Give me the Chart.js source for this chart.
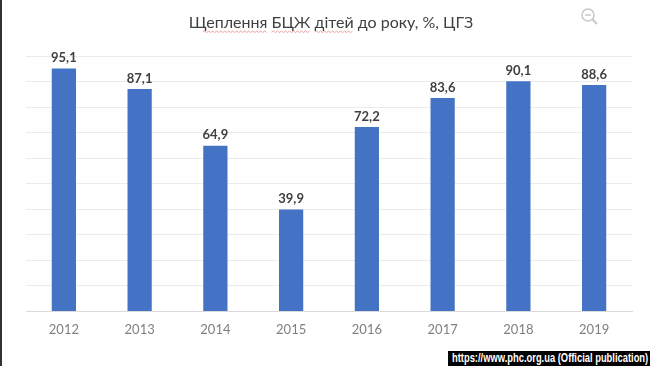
<!DOCTYPE html>
<html>
<head>
<meta charset="utf-8">
<script src="https://cdn.jsdelivr.net/npm/chart.js@4.4.1/dist/chart.umd.min.js"></script>
<style>
  html, body { margin: 0; padding: 0; background: #fff; }
  #wrap { position: relative; width: 650px; height: 366px; overflow: hidden; }
  #wrap::before { content: ''; position: absolute; left: 0; top: 0; bottom: 0; width: 2px; background: #333; z-index: 2; }
  canvas { display: block; }
  #zoomIcon { position: absolute; left: 580px; top: 7px; }
  #credit {
    position: absolute; left: 448px; right: 0; bottom: 0; height: 15px;
    background: #000; overflow: hidden;
  }
  #credit span {
    position: absolute; left: 4px; top: 0; line-height: 15px; white-space: nowrap;
    color: #fff; font: bold 12px "Liberation Sans", Arial, sans-serif;
    transform: scaleX(0.78); transform-origin: left center;
  }
</style>
</head>
<body>
<div id="wrap">
  <canvas id="chart" width="650" height="366"></canvas>
  <svg id="zoomIcon" width="20" height="20" viewBox="0 0 20 20">
    <circle cx="8" cy="8" r="6" fill="none" stroke="#c8c8c8" stroke-width="1.5"/>
    <line x1="5" y1="8" x2="11" y2="8" stroke="#c8c8c8" stroke-width="1.5"/>
    <line x1="12.5" y1="12.5" x2="17" y2="17" stroke="#c8c8c8" stroke-width="2"/>
  </svg>
  <div id="credit"><span>https://www.phc.org.ua (Official publication)</span></div>
</div>
<script>
const years = ['2012', '2013', '2014', '2015', '2016', '2017', '2018', '2019'];
const bcgCoverage = [95.1, 87.1, 64.9, 39.9, 72.2, 83.6, 90.1, 88.6];
const chartTitle = 'Щеплення БЦЖ дітей до року, %, ЦГЗ';
// words the spell checker underlined in the screenshot
const flaggedWords = ['Щеплення', 'БЦЖ', 'дітей'];

function squiggle(ctx, x0, x1, y) {
    ctx.beginPath();
    ctx.moveTo(x0, y);
    let up = true;
    for (let x = x0 + 2; x <= x1; x += 2) {
        ctx.lineTo(x, up ? y - 1 : y + 0.5);
        up = !up;
    }
    ctx.stroke();
}

// title drawn by hand so the spellcheck underline can sit under the words
const titleDraw = {
    id: 'titleDraw',
    afterDraw(chart) {
        const ctx = chart.ctx;
        ctx.save();
        ctx.font = '16px Lato, sans-serif';
        ctx.fillStyle = '#404040';
        ctx.textBaseline = 'alphabetic';
        const w = ctx.measureText(chartTitle).width;
        const x0 = 331 - w / 2;
        ctx.fillText(chartTitle, x0, 28);
        ctx.strokeStyle = 'rgba(230, 90, 90, 0.55)';
        ctx.lineWidth = 1;
        flaggedWords.forEach(word => {
            const idx = chartTitle.indexOf(word);
            const start = x0 + ctx.measureText(chartTitle.slice(0, idx)).width;
            const end = start + ctx.measureText(word).width;
            squiggle(ctx, start + (idx === 0 ? 14 : 0), end, 32);
        });
        ctx.restore();
    }
};

// data labels above bars, comma as decimal separator
const barLabels = {
    id: 'barLabels',
    afterDatasetsDraw(chart) {
        const ctx = chart.ctx;
        const meta = chart.getDatasetMeta(0);
        ctx.save();
        ctx.font = 'bold 13px Lato, sans-serif';
        ctx.fillStyle = '#404040';
        ctx.textAlign = 'center';
        ctx.textBaseline = 'bottom';
        meta.data.forEach((bar, i) => {
            const txt = bcgCoverage[i].toFixed(1).replace('.', ',');
            ctx.fillText(txt, bar.x, bar.y - 4);
        });
        ctx.restore();
    }
};

const bcgChart = new Chart(document.getElementById('chart').getContext('2d'), {
    type: 'bar',
    data: {
        labels: years,
        datasets: [{
            data: bcgCoverage,
            backgroundColor: '#4472c4',
            borderColor: '#4472c4',
            borderWidth: 0,
            barPercentage: 0.64,
            categoryPercentage: 0.5
        }]
    },
    options: {
        responsive: false,
        animation: false,
        layout: { padding: { left: 26, right: 18, top: 56, bottom: 17 } },
        plugins: {
            legend: { display: false },
            tooltip: { enabled: false },
            title: { display: false }
        },
        scales: {
            x: {
                grid: { display: false, drawTicks: false },
                border: { display: true, color: '#d9d9d9' },
                ticks: { color: '#7f7f7f', font: { family: 'Lato, sans-serif', size: 13 }, padding: 11 }
            },
            y: {
                min: 0,
                max: 100,
                ticks: { display: false, stepSize: 10 },
                grid: { color: '#ebebeb', drawTicks: false },
                border: { display: false }
            }
        }
    },
    plugins: [barLabels, titleDraw]
});
</script>
</body>
</html>
